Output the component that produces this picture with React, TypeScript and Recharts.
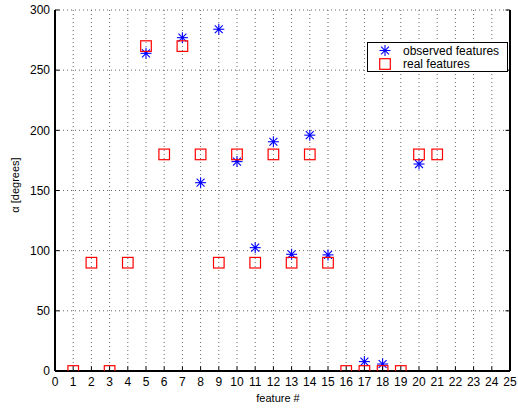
import React from "react";
import {
  ScatterChart,
  Scatter,
  XAxis,
  YAxis,
  CartesianGrid,
  Legend,
  Label,
} from "recharts";

// ---- data ----
const realFeatures = [1, 2, 3, 4, 5, 6, 7, 8, 9, 10, 11, 12, 13, 14, 15, 16, 17, 18, 19, 20, 21];
const realValues = [0, 90, 0, 90, 270, 180, 270, 180, 90, 180, 90, 180, 90, 180, 90, 0, 0, 0, 0, 180, 180];
const observedFeatures = [5, 7, 8, 9, 10, 11, 12, 13, 14, 15, 17, 18, 20];
const observedValues = [264, 277, 156.5, 284, 174, 102.5, 190.5, 97, 196, 96.5, 7.8, 5.8, 172];
const xTicks = [0, 1, 2, 3, 4, 5, 6, 7, 8, 9, 10, 11, 12, 13, 14, 15, 16, 17, 18, 19, 20, 21, 22, 23, 24, 25];
const yTicks = [0, 50, 100, 150, 200, 250, 300];
const seriesNames = ["observed features", "real features"];
const xLabel = "feature #";
const yLabel = "\u03b1 [degrees]";

const observedData = observedFeatures.map((f, i) => ({ x: f, y: observedValues[i] }));
const realData = realFeatures.map((f, i) => ({ x: f, y: realValues[i] }));

const FONT = '"Liberation Sans", Arial, Helvetica, sans-serif';
const BLUE = "#0000ff";
const RED = "#ff0000";
const TICK_LEN = 4.5;
const X_MARGIN = 6;
const Y_MARGIN = 5;

const Star = ({ cx, cy }: any) => {
  const r = 5.5;
  const d = r * 0.72;
  return (
    <g stroke={BLUE} strokeWidth={1.1}>
      <line x1={cx - r} y1={cy} x2={cx + r} y2={cy} />
      <line x1={cx} y1={cy - r} x2={cx} y2={cy + r} />
      <line x1={cx - d} y1={cy - d} x2={cx + d} y2={cy + d} />
      <line x1={cx - d} y1={cy + d} x2={cx + d} y2={cy - d} />
      <circle cx={cx} cy={cy} r={1.3} fill={BLUE} stroke="none" />
    </g>
  );
};

const Square = ({ cx, cy }: any) => {
  const h = 5.3;
  return (
    <rect x={cx - h} y={cy - h} width={2 * h} height={2 * h} fill="none" stroke={RED} strokeWidth={1.2} />
  );
};

const BottomTick = (props: any) => {
  const { x, y, payload } = props;
  const axisY = y - X_MARGIN;
  return (
    <g>
      <line x1={x} y1={axisY} x2={x} y2={axisY - TICK_LEN} stroke="#000" strokeWidth={1} />
      <text x={x} y={y} dy="0.71em" textAnchor="middle" fontFamily={FONT} fontSize={12} fill="#000">
        {payload.value}
      </text>
    </g>
  );
};

const TopTick = (props: any) => {
  const { x, y } = props;
  return <line x1={x} y1={y} x2={x} y2={y + TICK_LEN} stroke="#000" strokeWidth={1} />;
};

const LeftTick = (props: any) => {
  const { x, y, payload } = props;
  const axisX = x + Y_MARGIN;
  return (
    <g>
      <line x1={axisX} y1={y} x2={axisX + TICK_LEN} y2={y} stroke="#000" strokeWidth={1} />
      <text x={x} y={y} dy="0.355em" textAnchor="end" fontFamily={FONT} fontSize={12} fill="#000">
        {payload.value}
      </text>
    </g>
  );
};

const RightTick = (props: any) => {
  const { x, y } = props;
  return <line x1={x} y1={y} x2={x - TICK_LEN} y2={y} stroke="#000" strokeWidth={1} />;
};

const LegendBox = () => (
  <div
    style={{
      width: 141,
      height: 30,
      boxSizing: "border-box",
      border: "1px solid #000",
      background: "#fff",
    }}
  >
    <svg width={139} height={28} style={{ display: "block" }}>
      <Star cx={17} cy={7.5} />
      <text x={35} y={7.5} dy="0.355em" fontFamily={FONT} fontSize={12} fill="#000">
        {seriesNames[0]}
      </text>
      <Square cx={17} cy={21} />
      <text x={35} y={21} dy="0.355em" fontFamily={FONT} fontSize={12} fill="#000">
        {seriesNames[1]}
      </text>
    </svg>
  </div>
);

export default function App() {
  return (
    <div style={{ position: "absolute", left: 0, top: 0, background: "#fff" }}>
      <ScatterChart width={518} height={408} margin={{ top: 10, right: 0, bottom: 0, left: 0 }}>
        <CartesianGrid stroke="#666" strokeDasharray="1 3" strokeWidth={1} />
        <XAxis
          type="number"
          dataKey="x"
          domain={[0, 25]}
          ticks={xTicks}
          interval={0}
          height={37}
          tickSize={0}
          tickMargin={X_MARGIN}
          tick={<BottomTick />}
          axisLine={{ stroke: "#000", strokeWidth: 2 }}
          allowDataOverflow
        >
          <Label
            content={(p: any) => {
              const vb = p.viewBox;
              return (
                <text
                  x={vb.x + vb.width / 2 - 4.5}
                  y={vb.y + vb.height - 6}
                  textAnchor="middle"
                  fontFamily={FONT}
                  fontSize={11}
                  fill="#000"
                >
                  {xLabel}
                </text>
              );
            }}
          />
        </XAxis>
        <XAxis
          xAxisId="top"
          orientation="top"
          type="number"
          dataKey="x"
          domain={[0, 25]}
          ticks={xTicks}
          interval={0}
          height={0}
          tickSize={0}
          tickMargin={0}
          tick={<TopTick />}
          axisLine={{ stroke: "#000", strokeWidth: 2 }}
          allowDataOverflow
        />
        <YAxis
          type="number"
          dataKey="y"
          domain={[0, 300]}
          ticks={yTicks}
          interval={0}
          width={55}
          tickSize={0}
          tickMargin={Y_MARGIN}
          tick={<LeftTick />}
          axisLine={{ stroke: "#000", strokeWidth: 2 }}
          allowDataOverflow
        >
          <Label
            content={(p: any) => {
              const vb = p.viewBox;
              const cx = 15;
              const cy = vb.y + vb.height / 2 - 5.5;
              return (
                <text
                  x={cx}
                  y={cy}
                  dy="0.355em"
                  textAnchor="middle"
                  transform={`rotate(-90, ${cx}, ${cy})`}
                  fontFamily={FONT}
                  fontSize={11}
                  fill="#000"
                >
                  {yLabel}
                </text>
              );
            }}
          />
        </YAxis>
        <YAxis
          yAxisId="right"
          orientation="right"
          type="number"
          dataKey="y"
          domain={[0, 300]}
          ticks={yTicks}
          interval={0}
          width={8}
          tickSize={0}
          tickMargin={0}
          tick={<RightTick />}
          axisLine={{ stroke: "#000", strokeWidth: 2 }}
          allowDataOverflow
        />
        <Scatter
          name={seriesNames[0]}
          data={observedData}
          shape={(p: any) => <Star cx={p.cx} cy={p.cy} />}
          isAnimationActive={false}
        />
        <Scatter
          name={seriesNames[1]}
          data={realData}
          shape={(p: any) => <Square cx={p.cx} cy={p.cy} />}
          isAnimationActive={false}
        />
        <Legend
          layout="vertical"
          align="center"
          verticalAlign="middle"
          content={() => <LegendBox />}
          wrapperStyle={{ left: 367, top: 42, width: 141, height: 30 }}
        />
      </ScatterChart>
    </div>
  );
}
